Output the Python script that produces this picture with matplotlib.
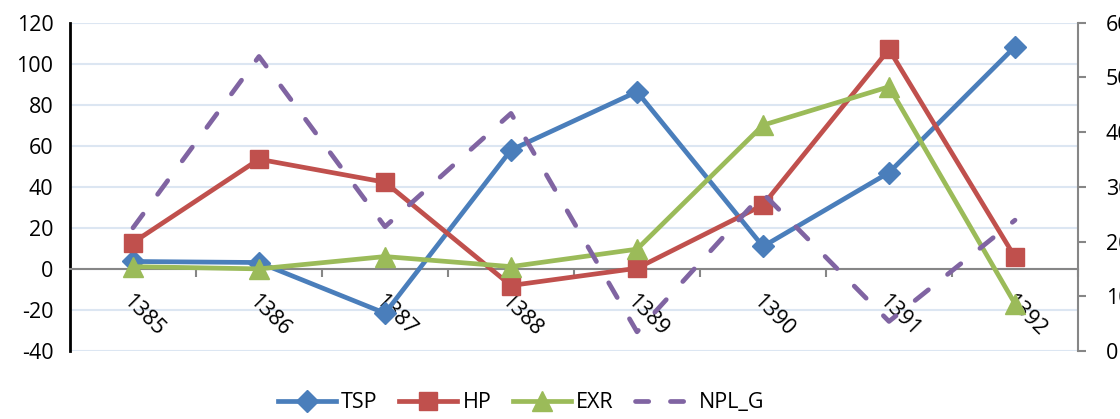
import matplotlib
matplotlib.use("Agg")
import matplotlib.pyplot as plt
from matplotlib.lines import Line2D
import numpy as np

years = ["1385", "1386", "1387", "1388", "1389", "1390", "1391", "1392"]
tsp = [3.6, 3.1, -21.6, 57.9, 86.3, 10.9, 46.9, 108.2]
hp = [12.8, 53.4, 42.2, -8.1, 0.3, 31.1, 106.9, 5.7]
exr = [1.1, 0.0, 6.0, 1.1, 9.6, 70.0, 88.7, -17.0]
npl_g = [22.5, 53.8, 22.7, 43.4, 3.5, 28.8, 5.4, 23.9]
left_ticks = [-40, -20, 0, 20, 40, 60, 80, 100, 120]
right_ticks = [0, 10, 20, 30, 40, 50, 60]

plt.rcParams['font.family'] = ['Open Sans', 'DejaVu Sans']
FS = 15.5

fig = plt.figure(figsize=(11.2, 4.19), dpi=100)
ax = fig.add_axes([70/1120, 1-351/419, (1078-70)/1120, (351-22.5)/419])
ax2 = ax.twinx()

x = np.arange(len(years))
ax.set_xlim(-0.5, len(years)-0.5)
ax.set_ylim(-40, 120)
ax2.set_ylim(0, 60)

for v in left_ticks:
    ax.axhline(v, color='#dce6f2', lw=1.5, zorder=0)

c_tsp, c_hp, c_exr, c_npl = '#4a7ebb', '#c0504d', '#9bbb59', '#8064a2'
lw = 3.4
ax.plot(x, tsp, color=c_tsp, lw=lw, marker='D', ms=11, zorder=3, label='TSP')
ax.plot(x, hp, color=c_hp, lw=lw, marker='s', ms=13, zorder=3, label='HP')
ax.plot(x, exr, color=c_exr, lw=lw, marker='^', ms=14, zorder=3, label='EXR')
ax2.plot(x, npl_g, color=c_npl, lw=lw, ls=(0, (3.6, 5.2)), dash_capstyle='round',
         zorder=3, label='NPL_G')

# spines
ax.spines['top'].set_visible(False)
ax.spines['right'].set_visible(False)
ax.spines['left'].set_color('#000000')
ax.spines['left'].set_linewidth(2)
ax.spines['bottom'].set_position(('data', 0))
ax.spines['bottom'].set_color('#868686')
ax.spines['bottom'].set_linewidth(1.5)
for s in ['top', 'left', 'bottom']:
    ax2.spines[s].set_visible(False)
ax2.spines['right'].set_color('#868686')
ax2.spines['right'].set_linewidth(1.5)

ax.set_yticks(left_ticks)
ax.set_yticklabels([str(v) for v in left_ticks], fontsize=FS)
ax.tick_params(axis='y', length=0, pad=12)

ax.set_xticks(x)
ax.set_xticks(np.arange(-0.5, len(years), 1.0)[1:], minor=True)
ax.tick_params(axis='x', which='major', length=0, pad=16)
ax.tick_params(axis='x', which='minor', length=6, direction='out', color='#868686', width=1.5)
ax.set_xticklabels(years, fontsize=FS, rotation=-45, ha='left', va='top', rotation_mode='anchor')

ax2.set_yticks(right_ticks)
ax2.set_yticklabels([str(v) for v in right_ticks], fontsize=FS)
ax2.tick_params(axis='y', length=6, color='#868686', width=1.5, pad=14)

handles = [
    Line2D([], [], color=c_tsp, lw=lw, marker='D', ms=11),
    Line2D([], [], color=c_hp, lw=lw, marker='s', ms=13),
    Line2D([], [], color=c_exr, lw=lw, marker='^', ms=14),
    Line2D([], [], color=c_npl, lw=lw, ls=(0, (2.8, 4.6)), dash_capstyle='round'),
]
fig.legend(handles, ['TSP', 'HP', 'EXR', 'NPL_G'], loc='center', bbox_to_anchor=(521/1120, 14/419 + 0.005),
           ncol=4, frameon=False, fontsize=FS, handlelength=2.7, columnspacing=1.0, handletextpad=0.25)

fig.savefig('out.png', dpi=100)
